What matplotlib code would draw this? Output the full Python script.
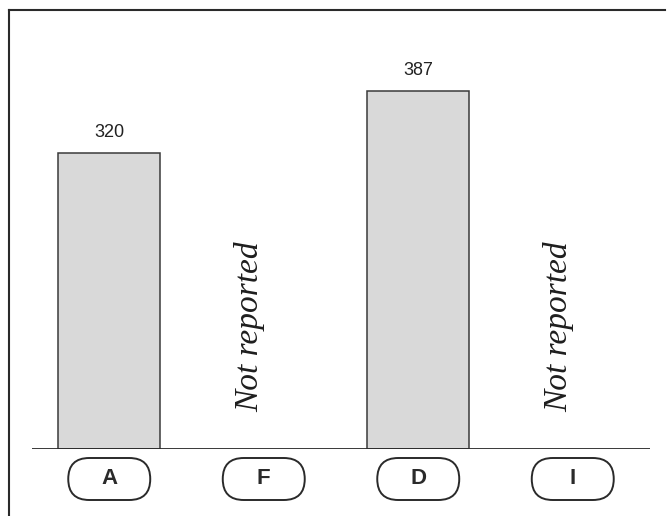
import numpy as np
import matplotlib
matplotlib.use("Agg")
import matplotlib.pyplot as plt
from matplotlib.patches import FancyBboxPatch
from matplotlib.lines import Line2D

# chart data
categories = ["A", "F", "D", "I"]
values = [320, None, 387, None]
missing_text = "Not reported"

W, H, DPI = 668, 516, 100
fig = plt.figure(figsize=(W / DPI, H / DPI), dpi=DPI, facecolor="white")

# axes placed in pixel terms: baseline at y=449, x from 32 to 650
left_px, right_px, base_px, top_px = 32, 650, 449, 10
ax = fig.add_axes([left_px / W, (H - base_px) / H,
                   (right_px - left_px) / W, (base_px - top_px) / H])
ax.set_xlim(-0.5, 3.5)
ax.set_ylim(0, 474)
ax.axis("off")

x = np.arange(len(categories))
bar_w = 0.66

for xi, v in zip(x, values):
    if v is None:
        ax.text(xi - 0.09, 132, missing_text, rotation=90, ha="center", va="center",
                fontsize=24, style="italic", family="Liberation Serif", color="#1e1e1e")
    else:
        ax.bar(xi, v, width=bar_w, color="#d9d9d9", edgecolor="#3a3a3a", linewidth=1.1, zorder=2)
        ax.text(xi, v + 13, str(v), ha="center", va="bottom", fontsize=13,
                family="Liberation Sans", color="#222222")

# baseline
ax.axhline(0, color="#2a2a2a", linewidth=1.3, zorder=3)

# pill labels under the baseline
px_per_x = (right_px - left_px) / 4.0
px_per_y = (base_px - top_px) / 474.0
aspect = px_per_x / px_per_y
pill_w = 82 / px_per_x
pill_top, pill_bot = -9 / px_per_y, -51 / px_per_y
for xi, lab in zip(x, categories):
    box = FancyBboxPatch((xi - pill_w / 2, pill_bot), pill_w, pill_top - pill_bot,
                         boxstyle="round,pad=0,rounding_size=%f" % (21 / px_per_x),
                         mutation_aspect=aspect, facecolor="white", edgecolor="#2a2a2a",
                         linewidth=1.4, clip_on=False, zorder=3)
    ax.add_patch(box)
    ax.text(xi, (pill_top + pill_bot) / 2, lab, ha="center", va="center", fontsize=16,
            fontweight="bold", family="Liberation Sans", color="#2a2a2a", clip_on=False)

# outer frame (left and top edges)
fig.add_artist(Line2D([8.5 / W, 8.5 / W], [0, 1 - 9.5 / H], transform=fig.transFigure,
                      color="#2a2a2a", linewidth=1.5))
fig.add_artist(Line2D([8.5 / W, 665 / W], [1 - 9.5 / H, 1 - 9.5 / H], transform=fig.transFigure,
                      color="#2a2a2a", linewidth=1.5))

fig.savefig("out.png", dpi=DPI, facecolor="white")
